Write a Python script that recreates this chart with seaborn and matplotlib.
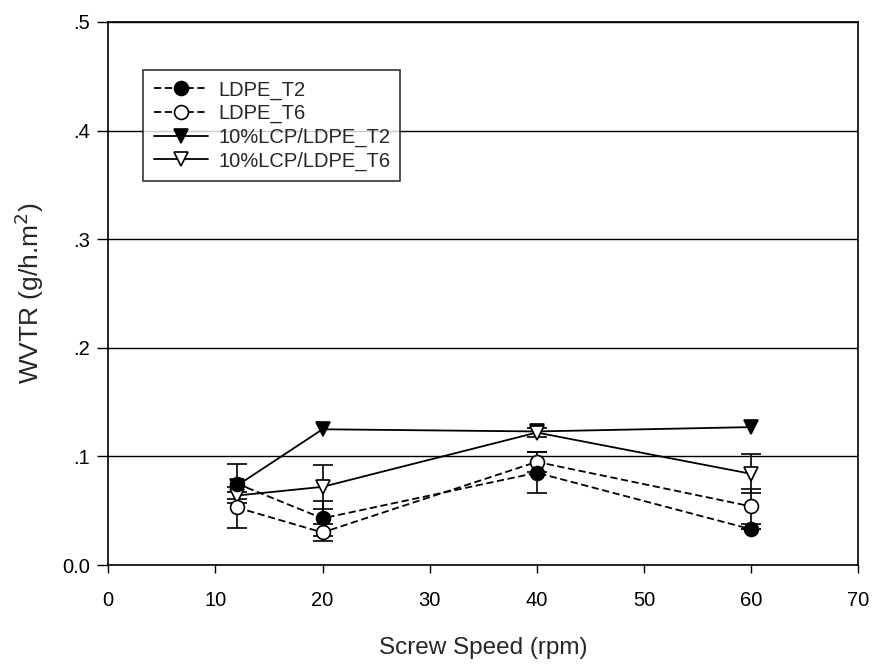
import numpy as np
import pandas as pd
import matplotlib
matplotlib.use("Agg")
import matplotlib.pyplot as plt
import seaborn as sns

# Datos
velocidad = [12, 20, 40, 60]
ldpe_t2 = [0.075, 0.043, 0.085, 0.033]
ldpe_t2_err = [0.018, 0.016, 0.019, 0.0]
ldpe_t6 = [0.053, 0.030, 0.095, 0.054]
ldpe_t6_err = [0.019, 0.008, 0.009, 0.016]
lcp_t2 = [0.073, 0.125, 0.123, 0.127]
lcp_t6 = [0.064, 0.072, 0.122, 0.084]
lcp_t6_err = [0.003, 0.020, 0.004, 0.018]

sns.set_style("ticks")
plt.rcParams["font.family"] = ["Liberation Sans", "DejaVu Sans"]

fig, ax = plt.subplots(figsize=(8.73, 6.64), dpi=100)
fig.subplots_adjust(left=0.124, right=0.983, bottom=0.149, top=0.967)

ax.yaxis.grid(True, color="black", linewidth=1.0)
ax.set_axisbelow(True)

# nombre, valores, error, marcador, relleno, guiones, orden de dibujo
series = [
    ("LDPE_T2", ldpe_t2, ldpe_t2_err, "o", "black", (4, 2), 5),
    ("LDPE_T6", ldpe_t6, ldpe_t6_err, "o", "white", (4, 2), 4),
    ("10%LCP/LDPE_T2", lcp_t2, None, "v", "black", "", 3),
    ("10%LCP/LDPE_T6", lcp_t6, lcp_t6_err, "v", "white", "", 3.5),
]

# barras de error primero para que queden debajo de los marcadores
for nombre, vals, err, mk, fc, ls, z in series:
    if err is not None:
        ax.errorbar(velocidad, vals, yerr=err, fmt="none", ecolor="black",
                    elinewidth=1.2, capsize=7, capthick=1.2, zorder=2)

for nombre, vals, err, mk, fc, ls, z in series:
    df = pd.DataFrame({"x": velocidad, "y": vals})
    sns.lineplot(data=df, x="x", y="y", ax=ax, color="black", linewidth=1.3,
                 marker=mk, markersize=10, markerfacecolor=fc,
                 markeredgecolor="black", markeredgewidth=1.2,
                 label=nombre, zorder=z)
    if ls:
        ax.lines[-1].set_dashes(ls)

ax.set_xlim(0, 70)
ax.set_ylim(0, 0.5)
ax.set_xticks(range(0, 71, 10))
ax.set_yticks([0, 0.1, 0.2, 0.3, 0.4, 0.5])
ax.set_yticklabels(["0.0", ".1", ".2", ".3", ".4", ".5"])
ax.tick_params(direction="out", width=1, labelsize=14.5, colors="black")
ax.tick_params(axis="y", length=8, pad=5)
ax.tick_params(axis="x", length=6, pad=13)

for s in ax.spines.values():
    s.set_color("black")
    s.set_linewidth(1.2)

ax.set_xlabel("Screw Speed (rpm)", fontsize=17.5, labelpad=19)
ax.set_ylabel("WVTR (g/h.m$^2$)", fontsize=19, labelpad=12)

leg = ax.legend(loc="upper left", bbox_to_anchor=(0.047, 0.911), fontsize=14.5,
                frameon=True, fancybox=False, edgecolor="black",
                borderaxespad=0, handlelength=2.7, handletextpad=0.5,
                borderpad=0.5, labelspacing=0.22)
leg.get_frame().set_linewidth(1.2)

fig.savefig("out.png", dpi=100)
